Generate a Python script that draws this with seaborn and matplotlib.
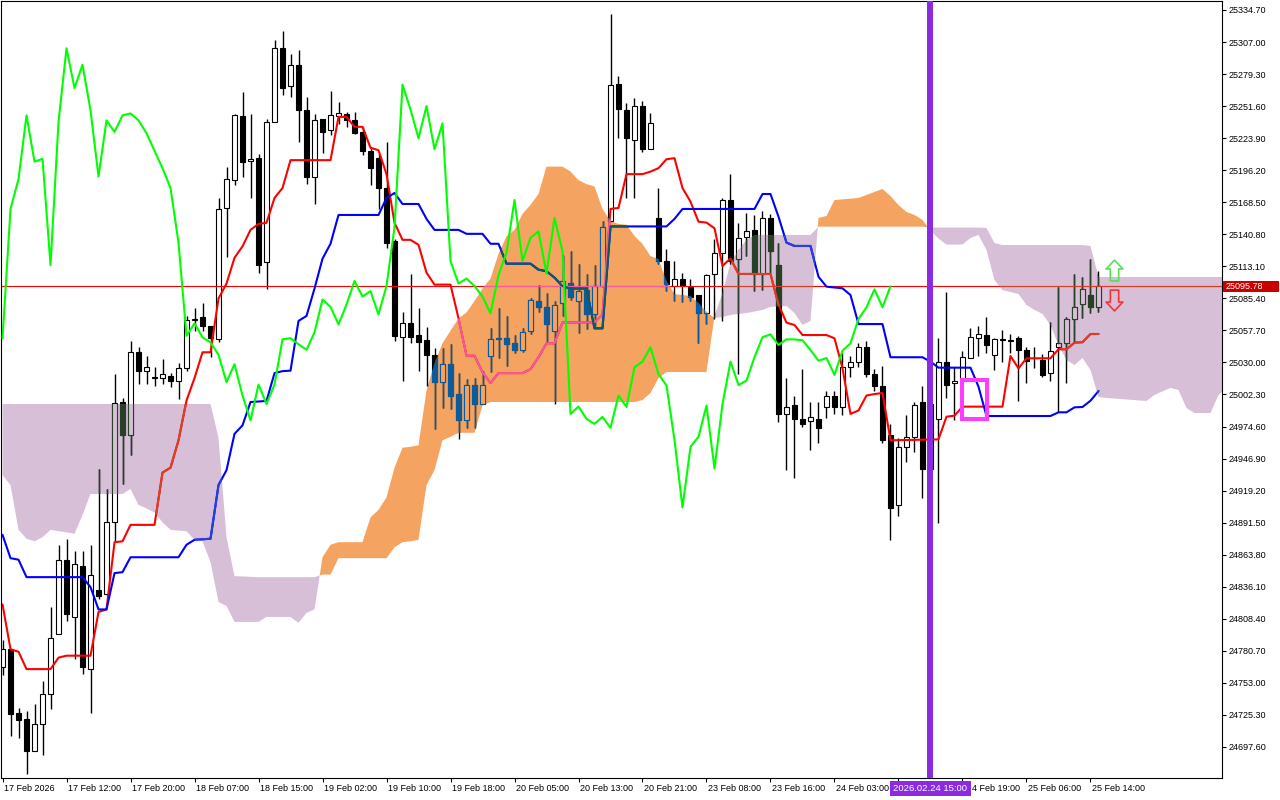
import numpy as np
import matplotlib
matplotlib.use("Agg")
import matplotlib.pyplot as plt
import matplotlib.transforms as mtransforms
from matplotlib.path import Path
from matplotlib.patches import Rectangle
import seaborn as sns

sns.set_style("white")
plt.rcParams["font.family"] = ["Liberation Sans", "DejaVu Sans"]

# hourly candles, index = bar number from the left edge
opens = [24767.0, 24782.1, 24727.0, 24721.8, 24693.9, 24717.5, 24743.3, 24795.0, 24859.5, 24810.0,
         24854.3, 24764.9, 24833.7, 24829.4, 24891.8, 24995.8, 24967.0, 25038.8, 25022.9, 25016.5,
         25016.5, 25018.6, 25014.3, 25025.1, 25066.8, 25069.0, 25061.6, 25050.0, 25163.6, 25187.6,
         25243.1, 25204.0, 25206.6, 25116.7, 25238.0, 25301.6, 25269.4, 25287.4, 25247.9, 25190.7,
         25240.1, 25230.7, 25243.1, 25244.4, 25239.3, 25229.4, 25213.0, 25206.6, 25180.8, 25134.7,
         25051.7, 25063.8, 25053.9, 25049.6, 25036.7, 25013.0, 25028.5, 25002.3, 24979.9, 25010.9,
         24994.1, 25035.8, 25050.5, 25050.9, 25046.6, 25041.0, 25057.3, 25083.1, 25078.0, 25057.3,
         25081.0, 25099.1, 25083.1, 25092.6, 25071.5, 25096.1, 25152.0, 25271.1, 25247.9, 25222.1,
         25251.7, 25214.3, 25155.0, 25117.6, 25096.1, 25102.5, 25095.6, 25088.7, 25072.4, 25106.8,
         25124.9, 25170.4, 25119.8, 25138.2, 25144.2, 25106.8, 25155.0, 25114.1, 24985.5, 24992.8,
         24981.2, 24979.0, 24981.2, 24991.5, 25001.4, 24991.5, 25026.4, 25030.7, 25043.1, 25019.9,
         25010.0, 24967.0, 24906.8, 24957.1, 24965.7, 24995.8, 24938.2, 24981.2, 25030.3, 25012.2,
         25016.3, 25033.7, 25050.9, 25053.9, 25036.7, 25049.3, 25048.8, 25050.9, 25041.0, 25033.5,
         25032.4, 25020.8, 25043.1, 25046.6, 25067.2, 25080.9, 25087.9, 25077.6]
highs = [24790.0, 24782.1, 24731.3, 24729.0, 24734.8, 24754.9, 24818.6, 24872.4, 24877.6, 24866.8,
         24866.8, 24872.4, 24937.8, 24921.0, 25019.9, 24999.3, 25048.7, 25043.6, 25035.8, 25025.9,
         25032.8, 25020.8, 25029.4, 25070.3, 25077.5, 25081.0, 25061.6, 25172.2, 25199.2, 25245.0,
         25263.8, 25244.4, 25210.0, 25240.1, 25308.9, 25316.2, 25296.9, 25300.3, 25259.5, 25244.4,
         25240.1, 25265.1, 25255.2, 25246.6, 25246.6, 25233.7, 25216.5, 25210.0, 25220.8, 25136.9,
         25073.2, 25106.8, 25076.7, 25060.3, 25042.3, 25042.3, 25045.7, 25020.8, 25015.6, 25016.5,
         25022.9, 25059.5, 25076.7, 25070.2, 25053.9, 25059.5, 25085.3, 25097.3, 25090.4, 25083.1,
         25123.1, 25126.1, 25115.4, 25106.8, 25114.5, 25152.0, 25331.3, 25278.0, 25253.9, 25258.2,
         25256.0, 25245.3, 25180.8, 25128.3, 25117.6, 25107.6, 25102.5, 25088.7, 25106.8, 25136.9,
         25172.2, 25192.8, 25150.7, 25159.3, 25157.5, 25160.6, 25158.4, 25133.5, 25016.5, 25001.4,
         25024.2, 24995.8, 24995.8, 25005.7, 25005.7, 25038.0, 25035.8, 25046.6, 25048.7, 25024.2,
         25027.2, 24976.9, 24964.9, 24984.2, 24995.8, 25010.0, 25000.0, 25051.2, 25091.2, 25025.9,
         25040.2, 25059.5, 25061.5, 25069.0, 25050.9, 25058.1, 25054.3, 25052.9, 25043.6, 25043.1,
         25037.1, 25065.2, 25095.5, 25069.4, 25106.5, 25103.6, 25119.2, 25109.1]
lows = [24760.0, 24706.8, 24705.5, 24674.5, 24693.9, 24690.4, 24730.5, 24795.0, 24806.6, 24773.5,
        24760.5, 24727.0, 24825.1, 24828.1, 24875.4, 24925.3, 24949.8, 25011.3, 25011.3, 25010.0,
        25011.3, 25008.7, 24998.4, 25022.9, 25057.3, 25057.3, 25035.0, 25047.4, 25121.0, 25183.3,
        25190.7, 25172.2, 25107.6, 25093.9, 25238.0, 25261.6, 25259.5, 25220.8, 25184.2, 25167.0,
        25210.9, 25226.4, 25235.8, 25233.7, 25227.2, 25209.2, 25183.3, 25162.7, 25129.2, 25048.7,
        25014.3, 25046.6, 25022.9, 25010.0, 24972.6, 24990.7, 24989.8, 24964.0, 24973.5, 24973.5,
        24994.1, 25021.6, 25033.7, 25027.2, 25038.0, 25038.8, 25054.3, 25073.2, 25046.6, 24994.1,
        25070.2, 25084.4, 25055.2, 25058.6, 25061.6, 25094.8, 25152.0, 25223.8, 25172.2, 25172.2,
        25212.2, 25214.3, 25115.4, 25091.7, 25083.1, 25081.9, 25083.1, 25046.6, 25062.9, 25067.2,
        25065.9, 25115.4, 25019.9, 25121.8, 25091.7, 25093.0, 25107.6, 24978.6, 24936.9, 24930.5,
        24974.3, 24954.1, 24960.6, 24982.0, 24985.5, 24984.2, 25017.8, 25025.9, 25017.8, 25005.7,
        24960.0, 24876.7, 24896.9, 24944.2, 24952.8, 24912.4, 24925.0, 24890.9, 24999.3, 24979.9,
        25005.0, 25033.7, 25035.6, 25037.9, 25023.5, 25030.7, 25038.0, 24997.0, 25012.0, 25025.1,
        25017.3, 25014.3, 24987.4, 25012.2, 25048.0, 25068.2, 25073.0, 25073.9]
closes = [24782.1, 24726.2, 24720.6, 24693.9, 24717.5, 24743.3, 24791.9, 24859.5, 24812.2, 24856.0,
          24767.0, 24846.6, 24828.1, 24891.8, 24995.0, 24967.0, 25038.8, 25022.9, 25026.4, 25017.0,
          25019.9, 25014.3, 25025.1, 25066.8, 25067.5, 25061.6, 25050.9, 25162.7, 25188.5, 25243.6,
          25203.6, 25206.0, 25114.1, 25238.0, 25301.6, 25267.2, 25287.4, 25247.9, 25190.7, 25239.3,
          25229.3, 25243.6, 25245.3, 25239.3, 25228.1, 25213.0, 25198.0, 25180.8, 25133.5, 25053.0,
          25063.8, 25051.7, 25047.4, 25036.7, 25013.0, 25028.5, 25001.4, 24979.9, 25010.9, 24994.1,
          25010.9, 25050.0, 25051.0, 25045.7, 25041.0, 25056.0, 25084.4, 25078.0, 25062.9, 25080.1,
          25100.4, 25087.0, 25091.7, 25071.5, 25096.1, 25146.8, 25270.2, 25248.7, 25223.8, 25251.7,
          25214.3, 25236.7, 25117.6, 25098.2, 25102.5, 25096.1, 25087.0, 25072.4, 25105.5, 25124.9,
          25170.4, 25117.6, 25137.8, 25143.3, 25106.8, 25155.0, 25126.1, 24985.5, 24991.9, 24981.2,
          24976.9, 24982.9, 24973.5, 25001.4, 24991.5, 25025.9, 25030.7, 25043.1, 25019.9, 25010.0,
          24963.0, 24904.6, 24957.1, 24965.7, 24992.8, 24938.2, 24994.0, 25030.7, 25010.5, 25014.3,
          25034.5, 25051.8, 25054.3, 25045.1, 25050.0, 25049.9, 25049.2, 25040.8, 25031.5, 25033.8,
          25019.2, 25040.2, 25046.5, 25067.6, 25077.7, 25093.2, 25077.7, 25095.78]

# Tenkan-sen (red) vertices
tenkan_bar = [0, 1, 2, 3, 6, 7, 8, 11, 12, 13, 14, 15, 16, 19, 20, 21, 22, 23, 24, 25, 26, 27, 28, 29,
              30, 31, 32, 33, 34, 35, 36, 41, 42, 43, 44, 45, 46, 47, 48, 49, 50, 51, 52, 53, 54, 56,
              57, 58, 59, 60, 61, 62, 65, 66, 67, 68, 69, 70, 74, 75, 76, 77, 78, 80, 81, 82, 83, 84,
              85, 86, 87, 88, 89, 90, 91, 92, 96, 97, 98, 99, 100, 103, 104, 105, 106, 107, 108, 109,
              110, 111, 117, 118, 119, 120, 125, 126, 127, 128, 131, 132, 133, 134, 135, 136, 137]
tenkan_val = [24820.8, 24782.1, 24779.9, 24764.9, 24764.9, 24774.8, 24776.5, 24776.5, 24814.3, 24816.5,
              24874.6, 24875.4, 24889.6, 24889.6, 24934.8, 24939.0, 24962.7, 24997.1, 25016.5, 25038.8,
              25038.8, 25085.3, 25098.2, 25120.5, 25130.4, 25144.6, 25149.8, 25150.7, 25172.2, 25180.8,
              25204.9, 25204.9, 25242.3, 25242.3, 25233.7, 25233.7, 25215.6, 25213.5, 25192.8, 25150.7,
              25136.0, 25136.0, 25131.7, 25107.6, 25097.3, 25097.3, 25068.1, 25035.8, 25035.8, 25021.6,
              25012.2, 25020.8, 25020.8, 25024.2, 25034.5, 25046.6, 25046.6, 25064.6, 25064.6, 25071.5,
              25162.7, 25163.6, 25192.8, 25192.8, 25195.0, 25198.0, 25205.7, 25206.6, 25180.8, 25169.0,
              25151.7, 25150.9, 25146.0, 25113.4, 25120.0, 25106.5, 25106.5, 25080.0, 25064.4, 25062.4,
              25053.7, 25053.7, 25050.9, 25025.1, 24985.5, 24988.5, 25001.4, 25002.7, 25003.6, 24962.7,
              24963.5, 24983.1, 24984.0, 24991.8, 24991.8, 25035.6, 25024.9, 25033.6, 25033.6, 25041.4,
              25041.4, 25047.1, 25047.5, 25054.6, 25054.6]

# Kijun-sen (blue) vertices
kijun_bar = [0, 1, 2, 3, 10, 11, 12, 13, 14, 15, 16, 22, 23, 24, 26, 27, 28, 29, 30, 31, 33, 34, 35, 36,
             37, 38, 39, 40, 41, 42, 47, 48, 49, 50, 52, 53, 54, 57, 58, 60, 61, 62, 63, 66, 67, 68, 69,
             70, 71, 73, 74, 75, 76, 83, 84, 85, 94, 95, 96, 97, 98, 99, 101, 102, 103, 105, 106, 107,
             110, 111, 115, 116, 117, 121, 122, 123, 131, 132, 133, 134, 135, 136, 137]
kijun_val = [24881.0, 24860.8, 24859.5, 24844.4, 24844.4, 24835.8, 24816.5, 24816.5, 24847.9, 24848.7,
             24861.6, 24861.6, 24872.4, 24876.7, 24877.6, 24924.0, 24936.9, 24968.3, 24975.6, 24995.8,
             24996.7, 25020.8, 25022.5, 25022.9, 25065.9, 25070.2, 25093.9, 25119.7, 25132.6, 25157.5,
             25157.5, 25172.2, 25176.5, 25167.0, 25167.0, 25154.1, 25144.6, 25144.6, 25141.2, 25141.2,
             25132.6, 25132.6, 25115.4, 25115.4, 25110.2, 25108.9, 25103.3, 25096.0, 25093.9, 25093.9,
             25059.5, 25059.5, 25147.6, 25147.6, 25154.1, 25162.7, 25162.7, 25175.6, 25175.6, 25156.0,
             25133.6, 25130.7, 25130.7, 25104.1, 25095.5, 25094.1, 25088.3, 25063.2, 25063.2, 25034.5,
             25034.5, 25030.7, 25025.5, 25025.5, 25009.1, 24983.7, 24983.7, 24986.9, 24986.9, 24991.2,
             24991.5, 24996.9, 25005.3]

# Senkou spans (already shifted forward), read at the same bars
cloud_bar = [0, 1, 2, 3, 4, 5, 6, 8, 9, 10, 11, 15, 16, 17, 18, 19, 20, 21, 23, 24, 25, 26, 27, 28, 29,
             32, 33, 36, 37, 38, 39, 40, 41, 42, 45, 46, 47, 48, 49, 50, 51, 52, 53, 54, 55, 56, 57, 58,
             59, 60, 61, 62, 63, 64, 65, 66, 67, 68, 70, 71, 72, 73, 74, 75, 76, 77, 78, 79, 80, 81, 82,
             83, 84, 86, 87, 88, 89, 90, 91, 92, 93, 94, 95, 96, 98, 99, 100, 101, 102, 103, 104, 107,
             108, 109, 110, 111, 112, 113, 114, 115, 116, 117, 118, 120, 121, 122, 123, 124, 125, 126,
             127, 128, 129, 130, 131, 132, 133, 134, 135, 136, 137, 138, 143, 144, 146, 147, 148, 149,
             151, 152, 153]
span_a = [24932.6, 24924.0, 24885.3, 24877.6, 24875.4, 24878.9, 24885.3, 24883.1, 24881.9, 24898.2,
          24916.3, 24916.3, 24920.6, 24906.8, 24903.8, 24900.3, 24891.8, 24885.3, 24884.0, 24876.7,
          24875.4, 24857.4, 24822.9, 24819.5, 24805.7, 24805.7, 24810.0, 24810.0, 24804.9, 24813.5,
          24816.5, 24861.6, 24872.4, 24874.6, 24874.6, 24896.1, 24902.5, 24913.3, 24939.0, 24956.3,
          24957.1, 24958.4, 25005.7, 25029.4, 25046.6, 25057.3, 25068.1, 25073.2, 25083.1, 25093.9,
          25102.5, 25124.0, 25139.0, 25144.6, 25158.4, 25166.2, 25175.6, 25199.3, 25199.3, 25195.0,
          25187.6, 25184.2, 25182.1, 25162.7, 25152.0, 25149.8, 25149.0, 25139.3, 25132.4, 25122.0,
          25119.4, 25100.4, 25089.2, 25087.4, 25081.4, 25073.6, 25068.4, 25069.3, 25071.0, 25072.0,
          25072.7, 25074.0, 25075.4, 25078.0, 25078.8, 25072.7, 25062.4, 25065.8, 25154.9, 25156.6,
          25170.4, 25172.2, 25174.8, 25177.4, 25180.0, 25173.9, 25166.1, 25160.1, 25157.5, 25153.2,
          25144.0, 25137.1, 25131.9, 25131.9, 25137.6, 25140.2, 25127.2, 25101.3, 25092.6, 25090.9,
          25089.2, 25079.7, 25075.4, 25071.9, 25062.4, 25045.1, 25032.1, 25027.8, 25033.8, 25023.5,
          25000.1, 24999.3, 24996.7, 25001.9, 25008.0, 25006.2, 24990.6, 24986.3, 24986.3, 25001.9,
          25008.0]
span_b = [24994.1, 24994.1, 24994.1, 24994.1, 24994.1, 24994.1, 24994.1, 24994.1, 24994.1, 24994.1,
          24994.1, 24994.1, 24994.1, 24994.1, 24994.1, 24994.1, 24994.1, 24994.1, 24994.1, 24994.1,
          24994.1, 24994.1, 24964.9, 24878.9, 24845.3, 24844.4, 24844.4, 24844.4, 24844.4, 24844.4,
          24844.4, 24846.6, 24846.6, 24860.8, 24860.8, 24860.8, 24860.8, 24860.8, 24870.2, 24874.6,
          24875.4, 24876.7, 24924.0, 24936.9, 24962.7, 24965.7, 24969.2, 24969.2, 24969.2, 24992.8,
          24995.8, 24995.8, 24995.8, 24995.8, 24995.8, 24995.8, 24995.8, 24995.8, 24995.8, 24995.8,
          24995.8, 24995.8, 24995.8, 24995.8, 24995.8, 24995.8, 24995.8, 24995.8, 24997.5, 25003.6,
          25016.5, 25021.7, 25021.7, 25021.7, 25021.7, 25021.7, 25070.2, 25090.0, 25115.9, 25127.2,
          25135.9, 25140.2, 25140.2, 25140.2, 25140.2, 25140.2, 25140.2, 25140.2, 25147.4, 25147.4,
          25147.4, 25147.4, 25147.4, 25147.4, 25147.4, 25147.4, 25147.4, 25147.4, 25147.4, 25147.4,
          25146.6, 25146.6, 25146.6, 25146.6, 25146.6, 25146.6, 25146.2, 25133.3, 25131.5, 25131.5,
          25131.5, 25131.5, 25131.5, 25131.5, 25131.5, 25131.5, 25131.5, 25131.5, 25131.5, 25130.7,
          25103.9, 25103.9, 25103.9, 25103.9, 25103.9, 25103.9, 25103.9, 25103.9, 25103.9, 25103.9,
          25103.9]

price_ticks = [25334.70, 25307.00, 25279.30, 25251.60, 25223.90, 25196.20, 25168.50, 25140.80,
               25113.10, 25085.40, 25057.70, 25030.00, 25002.30, 24974.60, 24946.90, 24919.20,
               24891.50, 24863.80, 24836.10, 24808.40, 24780.70, 24753.00, 24725.30, 24697.60]
time_tick_bar = [0, 8, 16, 24, 32, 40, 48, 56, 64, 72, 80, 88, 96, 104, 112, 120, 128, 136]
# the 24 Feb 11:00 label sits under the marker tag, and the tag clips the next one
time_tick_lab = ["17 Feb 2026", "17 Feb 12:00", "17 Feb 20:00", "18 Feb 07:00", "18 Feb 15:00",
                 "19 Feb 02:00", "19 Feb 10:00", "19 Feb 18:00", "20 Feb 05:00", "20 Feb 13:00",
                 "20 Feb 21:00", "23 Feb 08:00", "23 Feb 16:00", "24 Feb 03:00", "",
                 "4 Feb 19:00", "25 Feb 06:00", "25 Feb 14:00"]
last_price = 25095.78
chikou_shift = 26
marker_bar = 116
marker_label = "2026.02.24 15:00"
box_bars = (119.95, 123.1)
box_prices = (24981.4, 25014.6)
up_arrow = (139.0, 25109.9)
down_arrow = (138.9, 25084.3)

SAND, THISTLE = "#F4A460", "#D8BFD8"

o, h, l, c = (np.array(v) for v in (opens, highs, lows, closes))
bars = np.arange(len(c))

fig = plt.figure(figsize=(12.8, 8), dpi=100)
ax = fig.add_axes([1 / 1280, 22 / 800, 1221 / 1280, 777 / 800])

cb, sa, sb = np.array(cloud_bar), np.array(span_a), np.array(span_b)
bull_cloud = ax.fill_between(cb, sa, sb, where=sa >= sb, interpolate=True, color=SAND, lw=0, zorder=1)
bear_cloud = ax.fill_between(cb, sa, sb, where=sb > sa, interpolate=True, color=THISTLE, lw=0, zorder=1)


def layer(z, wick, bear, bull_face, red, blue, clip=None):
    arts = []
    rise = c > o
    arts.append(ax.vlines(bars, l, h, colors=wick, lw=1, zorder=z))
    body = ax.bar(bars, np.abs(c - o), bottom=np.minimum(o, c), width=0.56,
                  color=[bull_face if r else bear for r in rise],
                  edgecolor=wick, linewidth=0.8, zorder=z + 0.1)
    arts.extend(body.patches)
    arts.append(ax.axhline(last_price, color=red, lw=0.8, zorder=z + 0.2))
    sns.lineplot(x=tenkan_bar, y=tenkan_val, color=red, linewidth=1.5, ax=ax, zorder=z + 0.3)
    arts.append(ax.lines[-1])
    sns.lineplot(x=kijun_bar, y=kijun_val, color=blue, linewidth=1.5, ax=ax, zorder=z + 0.3)
    arts.append(ax.lines[-1])
    if clip is not None:
        for a in arts:
            a.set_clip_path(clip, ax.transData)


# plain drawing, then the colour-inverted look where the cloud covers it
layer(2, "black", "black", "white", "#FF0000", "#0000FF")
layer(4, "#0B5B9F", "#0B5B9F", SAND, "#F45B9F", "#0B5B60",
      Path.make_compound_path(*bull_cloud.get_paths()))
layer(4, "#274027", "#274027", THISTLE, "#D84027", "#2740D8",
      Path.make_compound_path(*bear_cloud.get_paths()))

# Chikou span: closes drawn 26 bars back
sns.lineplot(x=bars[:len(c) - chikou_shift], y=c[chikou_shift:], color="#00FF00",
             linewidth=1.5, ax=ax, zorder=6)

ax.axvline(marker_bar, color="#8A2BE2", lw=4.3, zorder=7)
ax.add_patch(Rectangle((box_bars[0], box_prices[0]), box_bars[1] - box_bars[0],
                       box_prices[1] - box_prices[0], fill=False, edgecolor="#FF3CFF",
                       lw=2.9, zorder=7))

up_path = Path([(0, 1), (0.8, 0.15), (0.4, 0.15), (0.4, -1), (-0.4, -1), (-0.4, 0.15),
                (-0.8, 0.15), (0, 1)], closed=True)
down_path = Path([(x, -y) for x, y in up_path.vertices], closed=True)
ax.plot([up_arrow[0]], [up_arrow[1]], marker=up_path, ms=15, mfc="none", mec="#55E055",
        mew=1.2, ls="none", zorder=7)
ax.plot([down_arrow[0]], [down_arrow[1]], marker=down_path, ms=15, mfc="none", mec="#FF3030",
        mew=1.2, ls="none", zorder=7)

ax.set_xlim(-0.19, 152.44)
ax.set_ylim(24670.76, 25342.48)
ax.set_xlabel("")
ax.set_ylabel("")
ax.yaxis.tick_right()
ax.set_yticks(price_ticks)
ax.set_yticklabels([f"{p:.2f}" for p in price_ticks])
ax.set_xticks(time_tick_bar)
ax.set_xticklabels(time_tick_lab)
ax.tick_params(axis="x", bottom=True, direction="out", length=3, width=0.8, color="black",
               labelsize=6.5, pad=1.5, labelcolor="black")
ax.tick_params(axis="y", right=True, left=False, labelright=True, labelleft=False,
               direction="out", length=3, width=0.8, color="black", labelsize=6.5, pad=1.5,
               labelcolor="black")
for t in ax.get_xticklabels():
    t.set_ha("left")
    shift = 7.0 if t.get_text().startswith("4 ") else 1.2
    t.set_transform(t.get_transform() + mtransforms.ScaledTranslation(shift / 72, 0, fig.dpi_scale_trans))
for s in ax.spines.values():
    s.set_color("black")
    s.set_linewidth(0.8)

ytrans = mtransforms.blended_transform_factory(ax.transAxes, ax.transData)
ax.add_patch(Rectangle((1.0 + 1 / 1221, last_price - 5.5 * 0.8645), 56 / 1221, 11 * 0.8645,
                       transform=ytrans, fc="#C80000", ec="none", clip_on=False, zorder=9))
ax.text(1.0 + 4 / 1221, last_price, f"{last_price:.2f}", transform=ytrans, ha="left",
        va="center", fontsize=6.5, color="white", clip_on=False, zorder=10)
xtrans = mtransforms.blended_transform_factory(ax.transData, ax.transAxes)
ax.text(marker_bar, -6 / 777, marker_label, transform=xtrans, ha="center", va="top",
        fontsize=6.8, color="white", clip_on=False, zorder=10,
        bbox=dict(boxstyle="square,pad=0.35", fc="#8A2BE2", ec="none"))

fig.savefig("out.png", dpi=100, facecolor="white")
